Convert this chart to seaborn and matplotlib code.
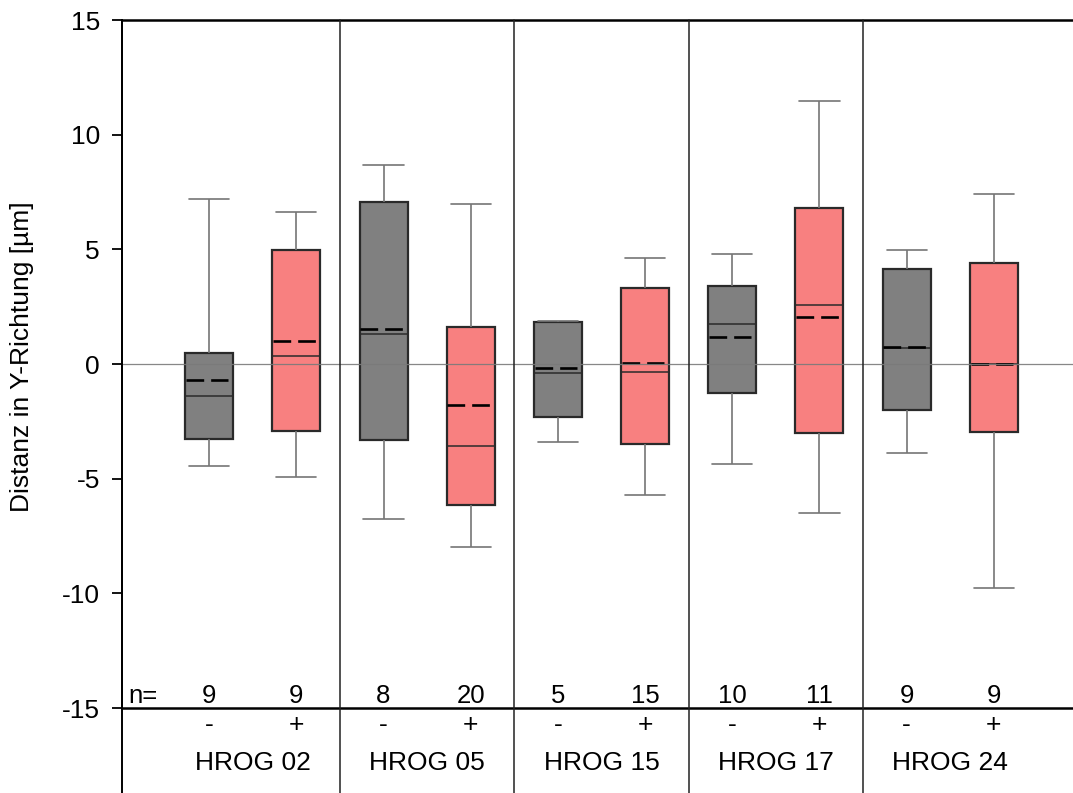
import numpy as np
import pandas as pd
import matplotlib
matplotlib.use("Agg")
import matplotlib.pyplot as plt
import matplotlib.transforms as mtransforms
import seaborn as sns

# ---------------- data ----------------
groups = ["HROG 02", "HROG 05", "HROG 15", "HROG 17", "HROG 24"]
conditions = ["-", "+"]

# order: (HROG02 -, HROG02 +, HROG05 -, HROG05 +, ...)
whisker_low = [-4.43, -4.94, -6.77, -7.99, -3.39, -5.71, -4.37, -6.50, -3.90, -9.76]
q1 = [-3.27, -2.94, -3.31, -6.14, -2.30, -3.47, -1.25, -3.02, -1.99, -2.98]
median = [-1.41, 0.35, 1.29, -3.56, -0.38, -0.34, 1.74, 2.56, 0.71, 0.00]
q3 = [0.47, 4.97, 7.08, 1.60, 1.83, 3.31, 3.39, 6.82, 4.16, 4.42]
whisker_high = [7.20, 6.63, 8.66, 6.99, 1.88, 4.61, 4.78, 11.48, 4.96, 7.40]
mean = [-0.71, 1.00, 1.53, -1.80, -0.17, 0.04, 1.18, 2.06, 0.72, 0.00]
n_values = [9, 9, 8, 20, 5, 15, 10, 11, 9, 9]

y_ticks = [-15, -10, -5, 0, 5, 10, 15]
y_label = "Distanz in Y-Richtung [µm]"

# ---------------- table for seaborn ----------------
rows = []
k = 0
for g in groups:
    for c in conditions:
        for v in (whisker_low[k], q1[k], median[k], q3[k], whisker_high[k]):
            rows.append({"group": g, "cond": c, "value": v})
        k += 1
df = pd.DataFrame(rows)

# ---------------- style ----------------
sns.set_theme(style="white")
plt.rcParams["font.family"] = ["Liberation Sans", "DejaVu Sans"]
plt.rcParams["axes.unicode_minus"] = False
plt.rcParams["text.color"] = "black"
plt.rcParams["axes.labelcolor"] = "black"
plt.rcParams["xtick.color"] = "black"
plt.rcParams["ytick.color"] = "black"

W, H = 1073, 793
fig = plt.figure(figsize=(W / 100, H / 100), dpi=100)
ax_left = 122 / W
ax_bottom = (H - 708) / H
ax_height = 688 / H
ax_width = (1081 - 122) / W
ax = fig.add_axes([ax_left, ax_bottom, ax_width, ax_height])

gray = "#808080"
red = "#F88080"
edge = "#2a2a2a"
whisk = "#767676"

box_width_total = 1.0
gap = 0.45
sns.boxplot(
    data=df, x="group", y="value", hue="cond",
    order=groups, hue_order=conditions,
    palette={"-": gray, "+": red}, saturation=1,
    whis=(0, 100), width=box_width_total, gap=gap, dodge=True,
    legend=False, ax=ax, fliersize=0,
    boxprops=dict(edgecolor=edge, linewidth=1.6),
    medianprops=dict(color=edge, linewidth=1.1),
    whiskerprops=dict(color=whisk, linewidth=1.2),
    capprops=dict(color=whisk, linewidth=1.2),
    capwidths=0.23,
)

# mean lines (dashed: two dashes inside each box)
half_box = box_width_total / 2 * (1 - gap) / 2
mean_len = 42.5 / 174.4
k = 0
for i, g in enumerate(groups):
    for j, c in enumerate(conditions):
        xc = i + (j - 0.5) * box_width_total / 2
        x0 = xc - half_box + 0.004
        ax.hlines(mean[k], x0, x0 + mean_len,
                  colors="black", linewidth=1.9,
                  linestyles=(0, (6.7, 2.65)), zorder=4)
        k += 1

# zero line
ax.axhline(0, color="#7a7a7a", linewidth=0.9, zorder=5, alpha=0.9)

ax.set_xlim(-0.75, 4.75)
ax.set_ylim(-15, 15)
ax.set_yticks(y_ticks)
ax.set_yticklabels([str(t) for t in y_ticks], fontsize=19)
ax.tick_params(axis="y", direction="out", length=7, width=1.3, pad=9, left=True, colors="black")
ax.tick_params(axis="x", length=0, labelbottom=False)
ax.set_xlabel("")
ax.set_ylabel(y_label, fontsize=19, color="black")
ax.yaxis.set_label_coords(-0.092, 0.51)

for side in ["top", "bottom", "left"]:
    ax.spines[side].set_visible(True)
    ax.spines[side].set_color("black")
ax.spines["top"].set_linewidth(1.8)
ax.spines["bottom"].set_linewidth(1.8)
ax.spines["left"].set_linewidth(1.4)
ax.spines["right"].set_visible(False)

# separators extending below the axis
ext = -(H - 708) / 688
for s in [0.5, 1.5, 2.5, 3.5]:
    ax.axvline(s, ymin=ext, ymax=1, color="#222222", linewidth=1.1,
               clip_on=False, zorder=6)
ax.axvline(-0.75, ymin=ext, ymax=1, color="black", linewidth=1.4,
           clip_on=False, zorder=6)

# labels below axis
trans = mtransforms.blended_transform_factory(ax.transData, ax.transAxes)
k = 0
for i, g in enumerate(groups):
    ax.text(i, -(770 - 708) / 688, g, transform=trans, ha="center",
            va="baseline", fontsize=19, color="black")
    for j, c in enumerate(conditions):
        xc = i + (j - 0.5) * box_width_total / 2
        ax.text(xc, -(732 - 708) / 688, c, transform=trans, ha="center",
                va="baseline", fontsize=19, color="black")
        ax.text(xc, -14.78, str(n_values[k]), ha="center", va="baseline",
                fontsize=18.5, color="black")
        k += 1
ax.text(-0.715, -14.78, "n=", ha="left", va="baseline", fontsize=18.5, color="black")

fig.savefig("out.png", dpi=100)
